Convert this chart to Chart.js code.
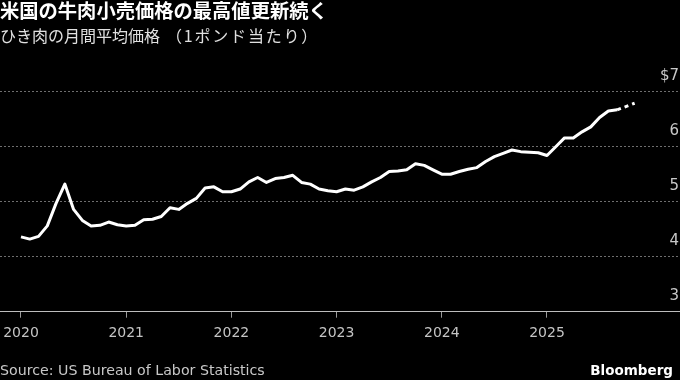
<!DOCTYPE html>
<html>
<head>
<meta charset="utf-8">
<script src="https://cdn.jsdelivr.net/npm/chart.js@4.4.1/dist/chart.umd.min.js"></script>
<style>
  html, body { margin: 0; padding: 0; background: #000; }
  #wrap { position: relative; width: 680px; height: 380px; background: #000; overflow: hidden; }
  #c { position: absolute; left: 0; top: 0; }
  .t { position: absolute; white-space: nowrap; text-spacing-trim: space-all; }
  #title { left: 0; top: 1px; font: bold 19.3px/19px "Noto Sans CJK JP", sans-serif; color: #fff; }
  #subtitle { left: 0; top: 27px; font: 16px/16px "Noto Sans CJK JP", sans-serif; color: #e0e0e0; }
  #subtitle span { margin-left: 6px; letter-spacing: 1.8px; }
  #source { left: 0; top: 363px; font: 14.2px/14px "DejaVu Sans", sans-serif; color: #c8c8c8; }
  #brand { right: 7px; top: 363px; font: bold 13.5px/14px "DejaVu Sans", sans-serif; color: #fff; }
</style>
</head>
<body>
<div id="wrap">
  <canvas id="c" width="680" height="380"></canvas>
  <div class="t" id="title">米国の牛肉小売価格の最高値更新続く</div>
  <div class="t" id="subtitle">ひき肉の月間平均価格<span>（1ポンド当たり）</span></div>
  <div class="t" id="source">Source: US Bureau of Labor Statistics</div>
  <div class="t" id="brand">Bloomberg</div>
</div>
<script>
// ---- data (USD per pound, monthly average) ----
const years = [2020, 2021, 2022, 2023, 2024, 2025];
const price2020 = [4.36, 4.32, 4.37, 4.56, 4.97, 5.32, 4.86, 4.66, 4.56, 4.57, 4.63, 4.58];
const price2021 = [4.56, 4.57, 4.67, 4.68, 4.73, 4.89, 4.86, 4.97, 5.06, 5.25, 5.27, 5.18];
const price2022 = [5.18, 5.23, 5.36, 5.44, 5.35, 5.42, 5.44, 5.48, 5.35, 5.32, 5.23, 5.20];
const price2023 = [5.18, 5.23, 5.21, 5.27, 5.36, 5.44, 5.55, 5.56, 5.58, 5.69, 5.66, 5.58];
const price2024 = [5.50, 5.50, 5.55, 5.59, 5.62, 5.73, 5.82, 5.88, 5.94, 5.91, 5.90, 5.89];
const price2025 = [5.84, 6.00, 6.16, 6.16, 6.27, 6.36, 6.53, 6.65, 6.67, null, 6.79]; // Oct 2025 not published
const yearTicks = [2020, 2021, 2022, 2023, 2024, 2025];
const priceTicks = [3, 4, 5, 6, 7];

const priceByYear = [price2020, price2021, price2022, price2023, price2024, price2025];
const points = [];
years.forEach((yr, yi) => {
  priceByYear[yi].forEach((v, m) => points.push({ x: yr + m / 12, y: v }));
});

const monthGap = (ctx) => {
  const d = ctx.chart.data.datasets[0].data;
  const a = d[ctx.p0DataIndex], b = d[ctx.p1DataIndex];
  return (a && a.y == null) || (b && b.y == null) || (ctx.p1DataIndex - ctx.p0DataIndex > 1);
};

new Chart(document.getElementById('c'), {
  type: 'line',
  data: {
    datasets: [{
      data: points,
      borderColor: '#ffffff',
      borderWidth: 3,
      pointRadius: 0,
      pointHoverRadius: 0,
      tension: 0,
      spanGaps: true,
      borderJoinStyle: 'round',
      segment: {
        borderDash: ctx => monthGap(ctx) ? [4, 4] : undefined
      }
    }]
  },
  options: {
    responsive: false,
    animation: false,
    events: [],
    layout: { padding: { top: 91.7, right: 1, bottom: 28.3, left: 0 } },
    plugins: { legend: { display: false }, tooltip: { enabled: false }, title: { display: false } },
    scales: {
      x: {
        type: 'linear',
        min: 2019.8004,
        max: 2026.255,
        afterBuildTicks: s => { s.ticks = yearTicks.map(v => ({ value: v })); },
        afterFit: s => { s.height = 40; s.paddingLeft = 0; s.paddingRight = 0; },
        grid: { display: true, drawOnChartArea: false, drawTicks: true, tickLength: 6, color: '#9a9a9a', lineWidth: 1 },
        border: { display: true, color: '#bdbdbd', width: 1 },
        ticks: {
          color: '#c4c4c4',
          font: { family: 'DejaVu Sans', size: 14 },
          padding: 7,
          maxRotation: 0,
          autoSkip: false,
          callback: v => String(v)
        }
      },
      y: {
        position: 'right',
        min: 3,
        max: 7,
        afterBuildTicks: s => { s.ticks = priceTicks.map(v => ({ value: v })); },
        afterFit: s => { s.width = 0; s.paddingTop = 0; s.paddingBottom = 0; },
        grid: {
          drawTicks: false,
          color: ctx => (ctx.tick && ctx.tick.value === 3) ? 'rgba(0,0,0,0)' : '#6e6e6e',
          lineWidth: 1
        },
        border: { display: false, dash: [2, 2] },
        ticks: {
          mirror: true,
          padding: 0,
          labelOffset: -15.7,
          color: '#c8c8c8',
          font: { family: 'DejaVu Sans', size: 15 },
          callback: v => (v === 7 ? '$' + v : String(v))
        }
      }
    }
  }
});
</script>
</body>
</html>
